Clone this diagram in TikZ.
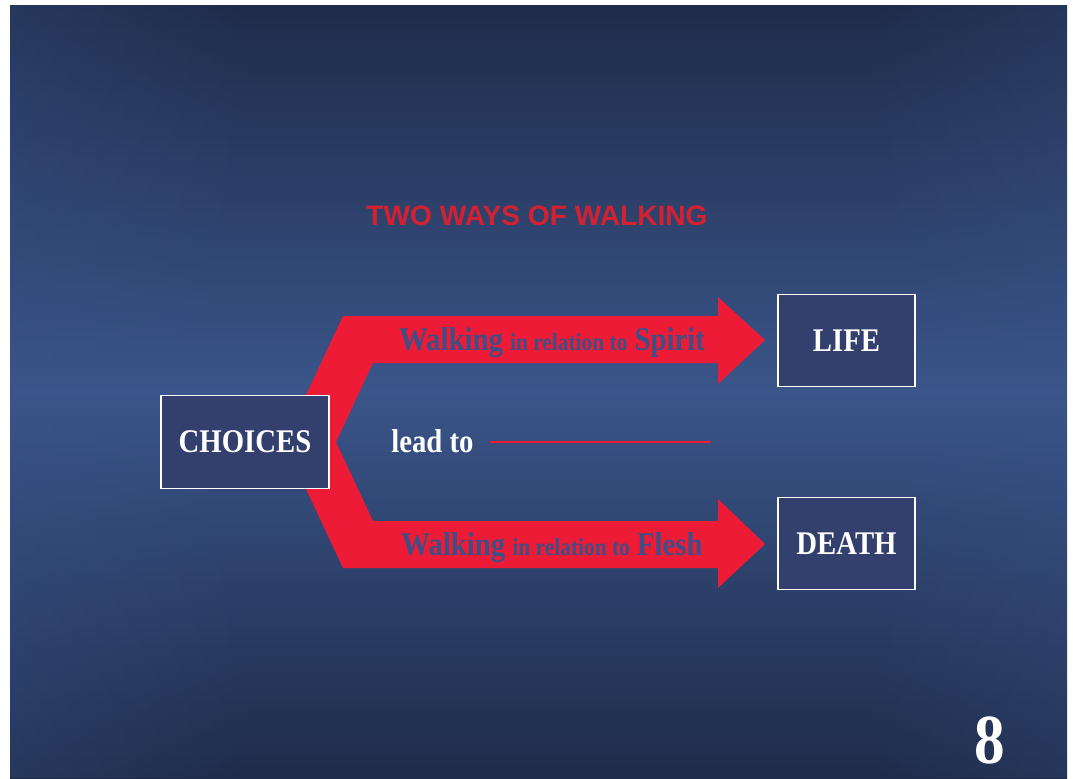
\documentclass[tikz,border=0pt]{standalone}
\usepackage{fontspec}
\setmainfont{Liberation Serif}[FakeStretch=0.87]
\setsansfont{Liberation Sans}
\usetikzlibrary{fadings}

\definecolor{bgdark}{HTML}{1F2B4A}
\definecolor{bglight}{HTML}{3A5589}
\definecolor{boxfill}{HTML}{333F6D}
\definecolor{forkred}{HTML}{ED1B36}
\definecolor{titlered}{HTML}{D42131}
\definecolor{walkblue}{HTML}{3D4F86}

\newcommand{\bigword}{\fontsize{23.5}{26}\selectfont}
\newcommand{\smallword}{\fontsize{17.5}{19}\selectfont}

\tikzset{
  wordbox/.style={draw=white, line width=1.2pt, fill=boxfill, text=white,
    font=\bfseries\bigword, inner sep=0pt},
  walklabel/.style={text=walkblue, font=\bfseries\bigword, inner sep=0pt, anchor=base},
}

\begin{document}
\begin{tikzpicture}[x=0.025cm, y=-0.025cm]
\useasboundingbox (0,0) rectangle (1073,778);
% \draw [help lines, step=100] (0,0) grid (1073,778) ;

\fill[white] (0,0) rectangle (1073,778);
\shade[top color=bgdark, bottom color=bgdark, middle color=bglight] (10,5) rectangle (1067,778);
\fill[bglight, opacity=0.3, path fading=east] (10,5) rectangle (260,778);
\fill[bglight, opacity=0.25, path fading=west] (860,5) rectangle (1067,778);

\draw (537,216) node[text=titlered, font=\sffamily\bfseries\fontsize{20}{22}\selectfont] (title) {TWO WAYS OF WALKING};

% the fork
\fill[forkred] (284,442) -- (343,316) -- (718,316) -- (718,297) -- (765,340)
  -- (718,384) -- (718,363) -- (373,363) -- (336,442) -- (373,521) -- (718,521)
  -- (718,499) -- (765,544) -- (718,588) -- (718,568) -- (343,568) -- cycle;

\draw (552,350) node[walklabel] (spirit) {Walking {\smallword in relation to} Spirit};
\draw (552,555) node[walklabel] (flesh) {Walking {\smallword in relation to} Flesh};

\draw (245,442) node[wordbox, minimum width=4.2cm, minimum height=2.33cm] (choices) {CHOICES};
\draw (846.5,340.5) node[wordbox, minimum width=3.42cm, minimum height=2.3cm] (life) {LIFE};
\draw (846.5,543.5) node[wordbox, minimum width=3.42cm, minimum height=2.3cm] (death) {DEATH};

\draw (391,452) node[anchor=base west, inner sep=0pt, text=white, font=\bfseries\bigword] (lead) {lead to};
\coordinate (blankstart) at (490,442);
\coordinate (blankend) at (711,442);
\draw[forkred, line width=0.8pt] (blankstart) -- (blankend);

\draw (990,763) node[anchor=base, inner sep=0pt, text=white, font=\bfseries\fontsize{50}{52}\selectfont] (page) {8};
\end{tikzpicture}
\end{document}
